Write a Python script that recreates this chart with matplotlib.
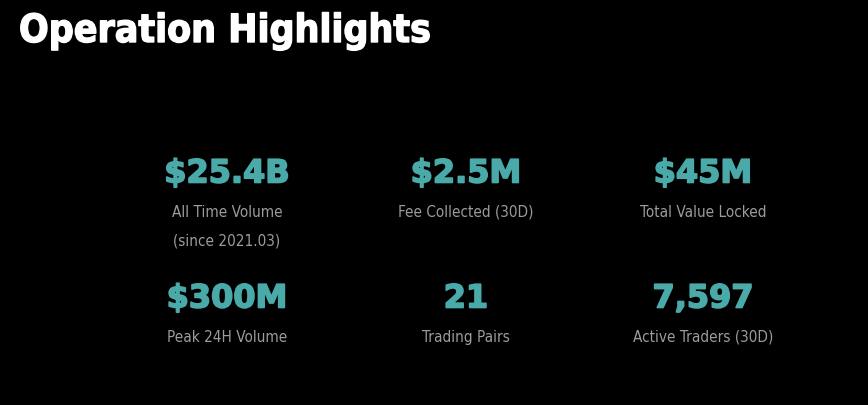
import matplotlib.pyplot as plt
import matplotlib.patheffects as pe

# stat values and their captions, row by row
values = ["$25.4B", "$2.5M", "$45M", "$300M", "21", "7,597"]
labels = ["All Time Volume\n(since 2021.03)", "Fee Collected (30D)", "Total Value Locked",
          "Peak 24H Volume", "Trading Pairs", "Active Traders (30D)"]
col_x = [227, 466, 703]
row_y = [175, 300]

W, H = 868, 406
fig = plt.figure(figsize=(W / 100, H / 100), dpi=100, facecolor="black")
ax = fig.add_axes([0, 0, 1, 1])
ax.set_xlim(0, W)
ax.set_ylim(H, 0)
ax.set_facecolor("black")
ax.axis("off")

fam = ["DejaVu Sans"]
teal = "#4aa9a9"
ax.text(19, 32, "Operation Highlights", color="white", fontsize=28, fontweight="bold",
        family=fam, fontstretch="condensed", va="center", ha="left",
        path_effects=[pe.withStroke(linewidth=1.0, foreground="white")])

for i, (v, lab) in enumerate(zip(values, labels)):
    x = col_x[i % 3]
    y = row_y[i // 3]
    ax.text(x, y, v, color=teal, fontsize=23, fontweight="bold", family=fam,
            ha="center", va="center",
            path_effects=[pe.withStroke(linewidth=1.2, foreground=teal)])
    ax.text(x, y + 30, lab, color="#9c9c9c", fontsize=11, family=fam,
            fontstretch="condensed", ha="center", va="top", linespacing=2.1)

fig.savefig("out.png", dpi=100, facecolor="black")
